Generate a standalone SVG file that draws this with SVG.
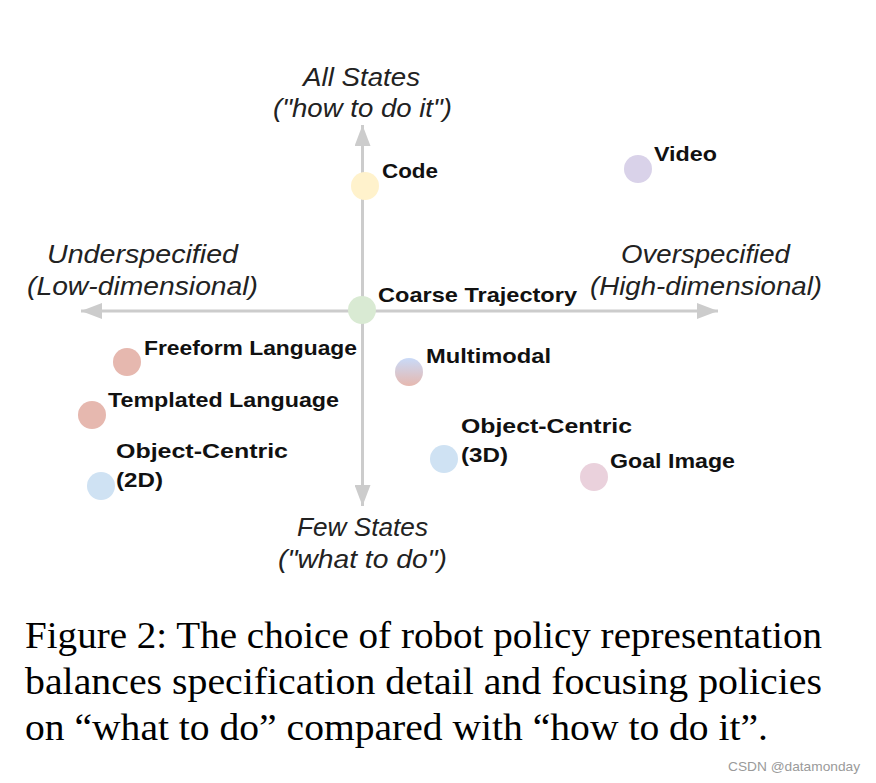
<svg xmlns="http://www.w3.org/2000/svg" width="876" height="783" viewBox="0 0 876 783">
<style>
.axis{stroke:#cccccc;stroke-width:3;fill:none}
.lbl{font-family:"Liberation Sans",Arial,sans-serif;font-weight:bold;font-size:21px;fill:#111}
.ax{font-family:"Liberation Sans",Arial,sans-serif;font-style:italic;font-size:25px;fill:#222}
.cap{font-family:"Liberation Serif","Times New Roman",serif;font-size:37px;fill:#000}
.wm{font-family:"Liberation Sans",Arial,sans-serif;font-size:13px;fill:#9a9a9a}
</style>
<defs>
<marker id="arr" markerUnits="userSpaceOnUse" markerWidth="22" markerHeight="16" refX="21" refY="8" orient="auto">
<path d="M0,0 L21,8 L0,16 z" fill="#cccccc"/>
</marker>
<linearGradient id="mm" x1="0" y1="0" x2="0" y2="1">
<stop offset="0" stop-color="#c9daf8"/>
<stop offset="1" stop-color="#e6b8af"/>
</linearGradient>
</defs>
<rect width="876" height="783" fill="#ffffff"/>
<g id="connectors">
<line class="axis" x1="362.5" y1="311" x2="362.5" y2="125" marker-end="url(#arr)"/>
<line class="axis" x1="362.5" y1="311" x2="362.5" y2="506" marker-end="url(#arr)"/>
<line class="axis" x1="362.5" y1="311" x2="81" y2="311" marker-end="url(#arr)"/>
<line class="axis" x1="362.5" y1="311" x2="718" y2="311" marker-end="url(#arr)"/>
</g>
<g id="axis-labels">
<text class="ax" x="303" y="86" textLength="117" lengthAdjust="spacingAndGlyphs">All States</text>
<text class="ax" x="273" y="117" textLength="179" lengthAdjust="spacingAndGlyphs">("how to do it")</text>
<text class="ax" x="47" y="263" textLength="191" lengthAdjust="spacingAndGlyphs">Underspecified</text>
<text class="ax" x="27" y="295" textLength="231" lengthAdjust="spacingAndGlyphs">(Low-dimensional)</text>
<text class="ax" x="621" y="263" textLength="169" lengthAdjust="spacingAndGlyphs">Overspecified</text>
<text class="ax" x="590" y="295" textLength="232" lengthAdjust="spacingAndGlyphs">(High-dimensional)</text>
<text class="ax" x="297" y="536" textLength="131" lengthAdjust="spacingAndGlyphs">Few States</text>
<text class="ax" x="278" y="568" textLength="169" lengthAdjust="spacingAndGlyphs">("what to do")</text>
</g>
<g id="node-code">
<circle cx="365" cy="186" r="14" fill="#fff2cc"/>
<text class="lbl" x="382" y="178" textLength="56" lengthAdjust="spacingAndGlyphs">Code</text>
</g>
<g id="node-video">
<circle cx="638" cy="169" r="14" fill="#d9d2e9"/>
<text class="lbl" x="654" y="161" textLength="63" lengthAdjust="spacingAndGlyphs">Video</text>
</g>
<g id="node-coarse">
<circle cx="362" cy="310" r="14" fill="#d9ead3"/>
<text class="lbl" x="378" y="302" textLength="199" lengthAdjust="spacingAndGlyphs">Coarse Trajectory</text>
</g>
<g id="node-freeform">
<circle cx="127" cy="362" r="14" fill="#e6b8af"/>
<text class="lbl" x="144" y="355" textLength="213" lengthAdjust="spacingAndGlyphs">Freeform Language</text>
</g>
<g id="node-templated">
<circle cx="92" cy="415" r="14" fill="#e6b8af"/>
<text class="lbl" x="108" y="407" textLength="231" lengthAdjust="spacingAndGlyphs">Templated Language</text>
</g>
<g id="node-multimodal">
<circle cx="409" cy="372" r="14" fill="url(#mm)"/>
<text class="lbl" x="426" y="363" textLength="125" lengthAdjust="spacingAndGlyphs">Multimodal</text>
</g>
<g id="node-object2d">
<circle cx="101" cy="486" r="14" fill="#cfe2f3"/>
<text class="lbl" x="116" y="458" textLength="172" lengthAdjust="spacingAndGlyphs">Object-Centric</text>
<text class="lbl" x="116" y="487" textLength="47" lengthAdjust="spacingAndGlyphs">(2D)</text>
</g>
<g id="node-object3d">
<circle cx="444" cy="459" r="14" fill="#cfe2f3"/>
<text class="lbl" x="461" y="433" textLength="171" lengthAdjust="spacingAndGlyphs">Object-Centric</text>
<text class="lbl" x="461" y="462" textLength="47" lengthAdjust="spacingAndGlyphs">(3D)</text>
</g>
<g id="node-goal">
<circle cx="594" cy="477" r="14" fill="#ead1dc"/>
<text class="lbl" x="610" y="468" textLength="125" lengthAdjust="spacingAndGlyphs">Goal Image</text>
</g>
<g id="caption">
<text class="cap" x="25" y="648" textLength="797" lengthAdjust="spacingAndGlyphs">Figure 2: The choice of robot policy representation</text>
<text class="cap" x="25" y="694" textLength="797" lengthAdjust="spacingAndGlyphs">balances specification detail and focusing policies</text>
<text class="cap" x="25" y="740" textLength="743" lengthAdjust="spacingAndGlyphs">on “what to do” compared with “how to do it”.</text>
</g>
<text class="wm" x="728" y="771" textLength="132" lengthAdjust="spacingAndGlyphs">CSDN @datamonday</text>
</svg>
